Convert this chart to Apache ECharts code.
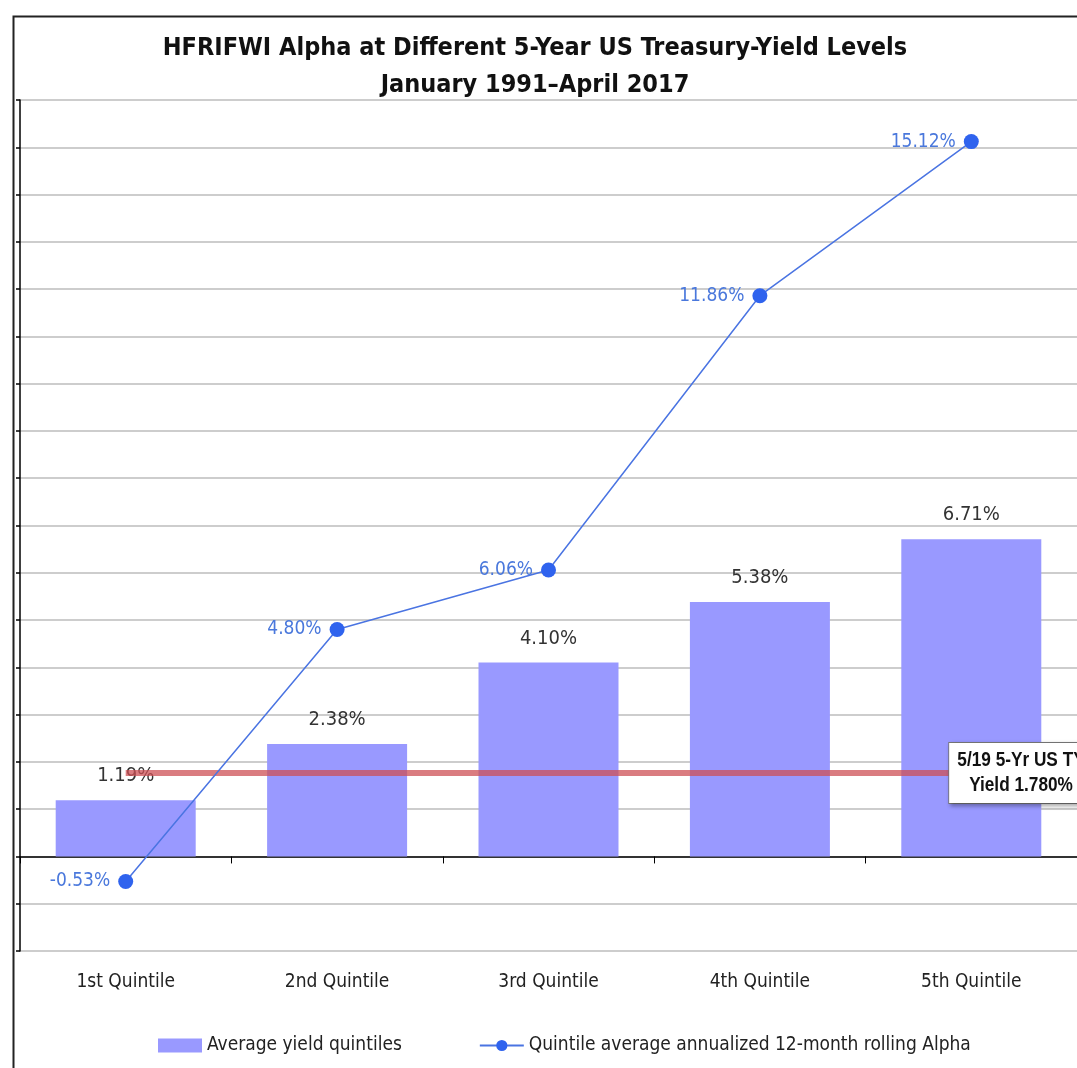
<!DOCTYPE html>
<html>
<head>
<meta charset="utf-8">
<script src="https://cdn.jsdelivr.net/npm/echarts@6/dist/echarts.min.js"></script>
<style>
  html, body { margin: 0; padding: 0; background: #fff; }
  #chart { width: 1077px; height: 1068px; }
</style>
</head>
<body>
<div id="chart"></div>
<script>
  // data
  var quintiles = ['1st Quintile', '2nd Quintile', '3rd Quintile', '4th Quintile', '5th Quintile'];
  var avgYield = [1.19, 2.38, 4.10, 5.38, 6.71];
  var rollingAlpha = [-0.53, 4.80, 6.06, 11.86, 15.12];
  var currentYield = 1.78;

  var font = '"DejaVu Sans Condensed", "Liberation Sans", Arial, sans-serif';

  var chart = echarts.init(document.getElementById('chart'));

  var option = {
    animation: false,
    backgroundColor: '#fff',
    textStyle: { fontFamily: font },
    title: {
      text: 'HFRIFWI Alpha at Different 5-Year US Treasury-Yield Levels\nJanuary 1991\u2013April 2017',
      left: 530,
      textAlign: 'center',
      top: 25,
      textStyle: {
        fontFamily: font,
        fontSize: 25,
        fontWeight: 'bold',
        color: '#111',
        lineHeight: 37
      }
    },
    legend: {
      bottom: 8,
      left: 153,
      itemGap: 77,
      itemWidth: 44,
      itemHeight: 14,
      textStyle: { fontFamily: font, fontSize: 19, color: '#222' },
      data: [
        { name: 'Average yield quintiles', icon: 'rect' },
        { name: 'Quintile average annualized 12-month rolling Alpha' }
      ]
    },
    grid: { left: 20, top: 100, width: 1065, height: 851 },
    xAxis: [
      {
        // category labels under the plot
        type: 'category',
        data: quintiles,
        position: 'bottom',
        axisLine: { show: false, onZero: false },
        axisTick: { show: false },
        axisLabel: { margin: 22, fontFamily: font, fontSize: 19, color: '#222' }
      },
      {
        // black zero line with ticks between categories
        type: 'category',
        data: quintiles,
        position: 'bottom',
        axisLine: { show: true, onZero: true, lineStyle: { color: '#000', width: 1.5 } },
        axisTick: { show: true, length: 7, lineStyle: { color: '#000' } },
        axisLabel: { show: false }
      }
    ],
    yAxis: {
      type: 'value',
      min: -2,
      max: 16,
      interval: 1,
      axisLine: { show: true, lineStyle: { color: '#000', width: 1.5 } },
      axisTick: { show: true, length: 4, lineStyle: { color: '#000', width: 1.5 } },
      axisLabel: { show: false },
      splitLine: { lineStyle: { color: '#bdbdbd', width: 1.5 } }
    },
    series: [
      {
        name: 'Average yield quintiles',
        type: 'bar',
        data: avgYield,
        barWidth: 140,
        itemStyle: { color: '#9999ff' },
        label: {
          show: true,
          position: 'top',
          distance: 14,
          formatter: function (p) { return p.value.toFixed(2) + '%'; },
          fontFamily: font,
          fontSize: 20,
          color: '#333'
        },
        markLine: {
          silent: true,
          symbol: 'none',
          z: 5,
          lineStyle: { color: 'rgba(205, 80, 85, 0.75)', width: 6, type: 'solid' },
          label: { show: false },
          data: [[{ coord: [0, currentYield] }, { coord: [4, currentYield] }]]
        }
      },
      {
        name: 'Quintile average annualized 12-month rolling Alpha',
        type: 'line',
        data: rollingAlpha,
        z: 6,
        symbol: 'circle',
        symbolSize: 15,
        itemStyle: { color: '#2f63ee' },
        lineStyle: { color: '#4a74e2', width: 1.5 },
        label: {
          show: true,
          position: 'left',
          distance: 8,
          formatter: function (p) { return p.value.toFixed(2) + '%'; },
          fontFamily: font,
          fontSize: 19,
          color: '#4a78dc'
        }
      }
    ],
    graphic: [
      {
        type: 'rect',
        left: 11,
        top: 14,
        shape: { width: 1100, height: 1100 },
        style: { fill: 'none', stroke: '#222', lineWidth: 2 },
        z: 0
      },
      {
        // yield call-out box, narrow bold text like the original
        type: 'text',
        x: 1021,
        y: 743,
        scaleX: 0.82,
        z: 20,
        style: {
          text: '5/19 5-Yr US TY\nYield 1.780%',
          font: 'bold 21px "Liberation Sans", Arial, sans-serif',
          fill: '#111',
          align: 'center',
          lineHeight: 25,
          backgroundColor: '#fff',
          borderColor: '#777',
          borderWidth: 1,
          padding: [5, 10, 5, 10],
          shadowColor: 'rgba(0,0,0,0.3)',
          shadowBlur: 4,
          shadowOffsetX: 2,
          shadowOffsetY: 2
        }
      }
    ]
  };

  chart.setOption(option);
</script>
</body>
</html>
